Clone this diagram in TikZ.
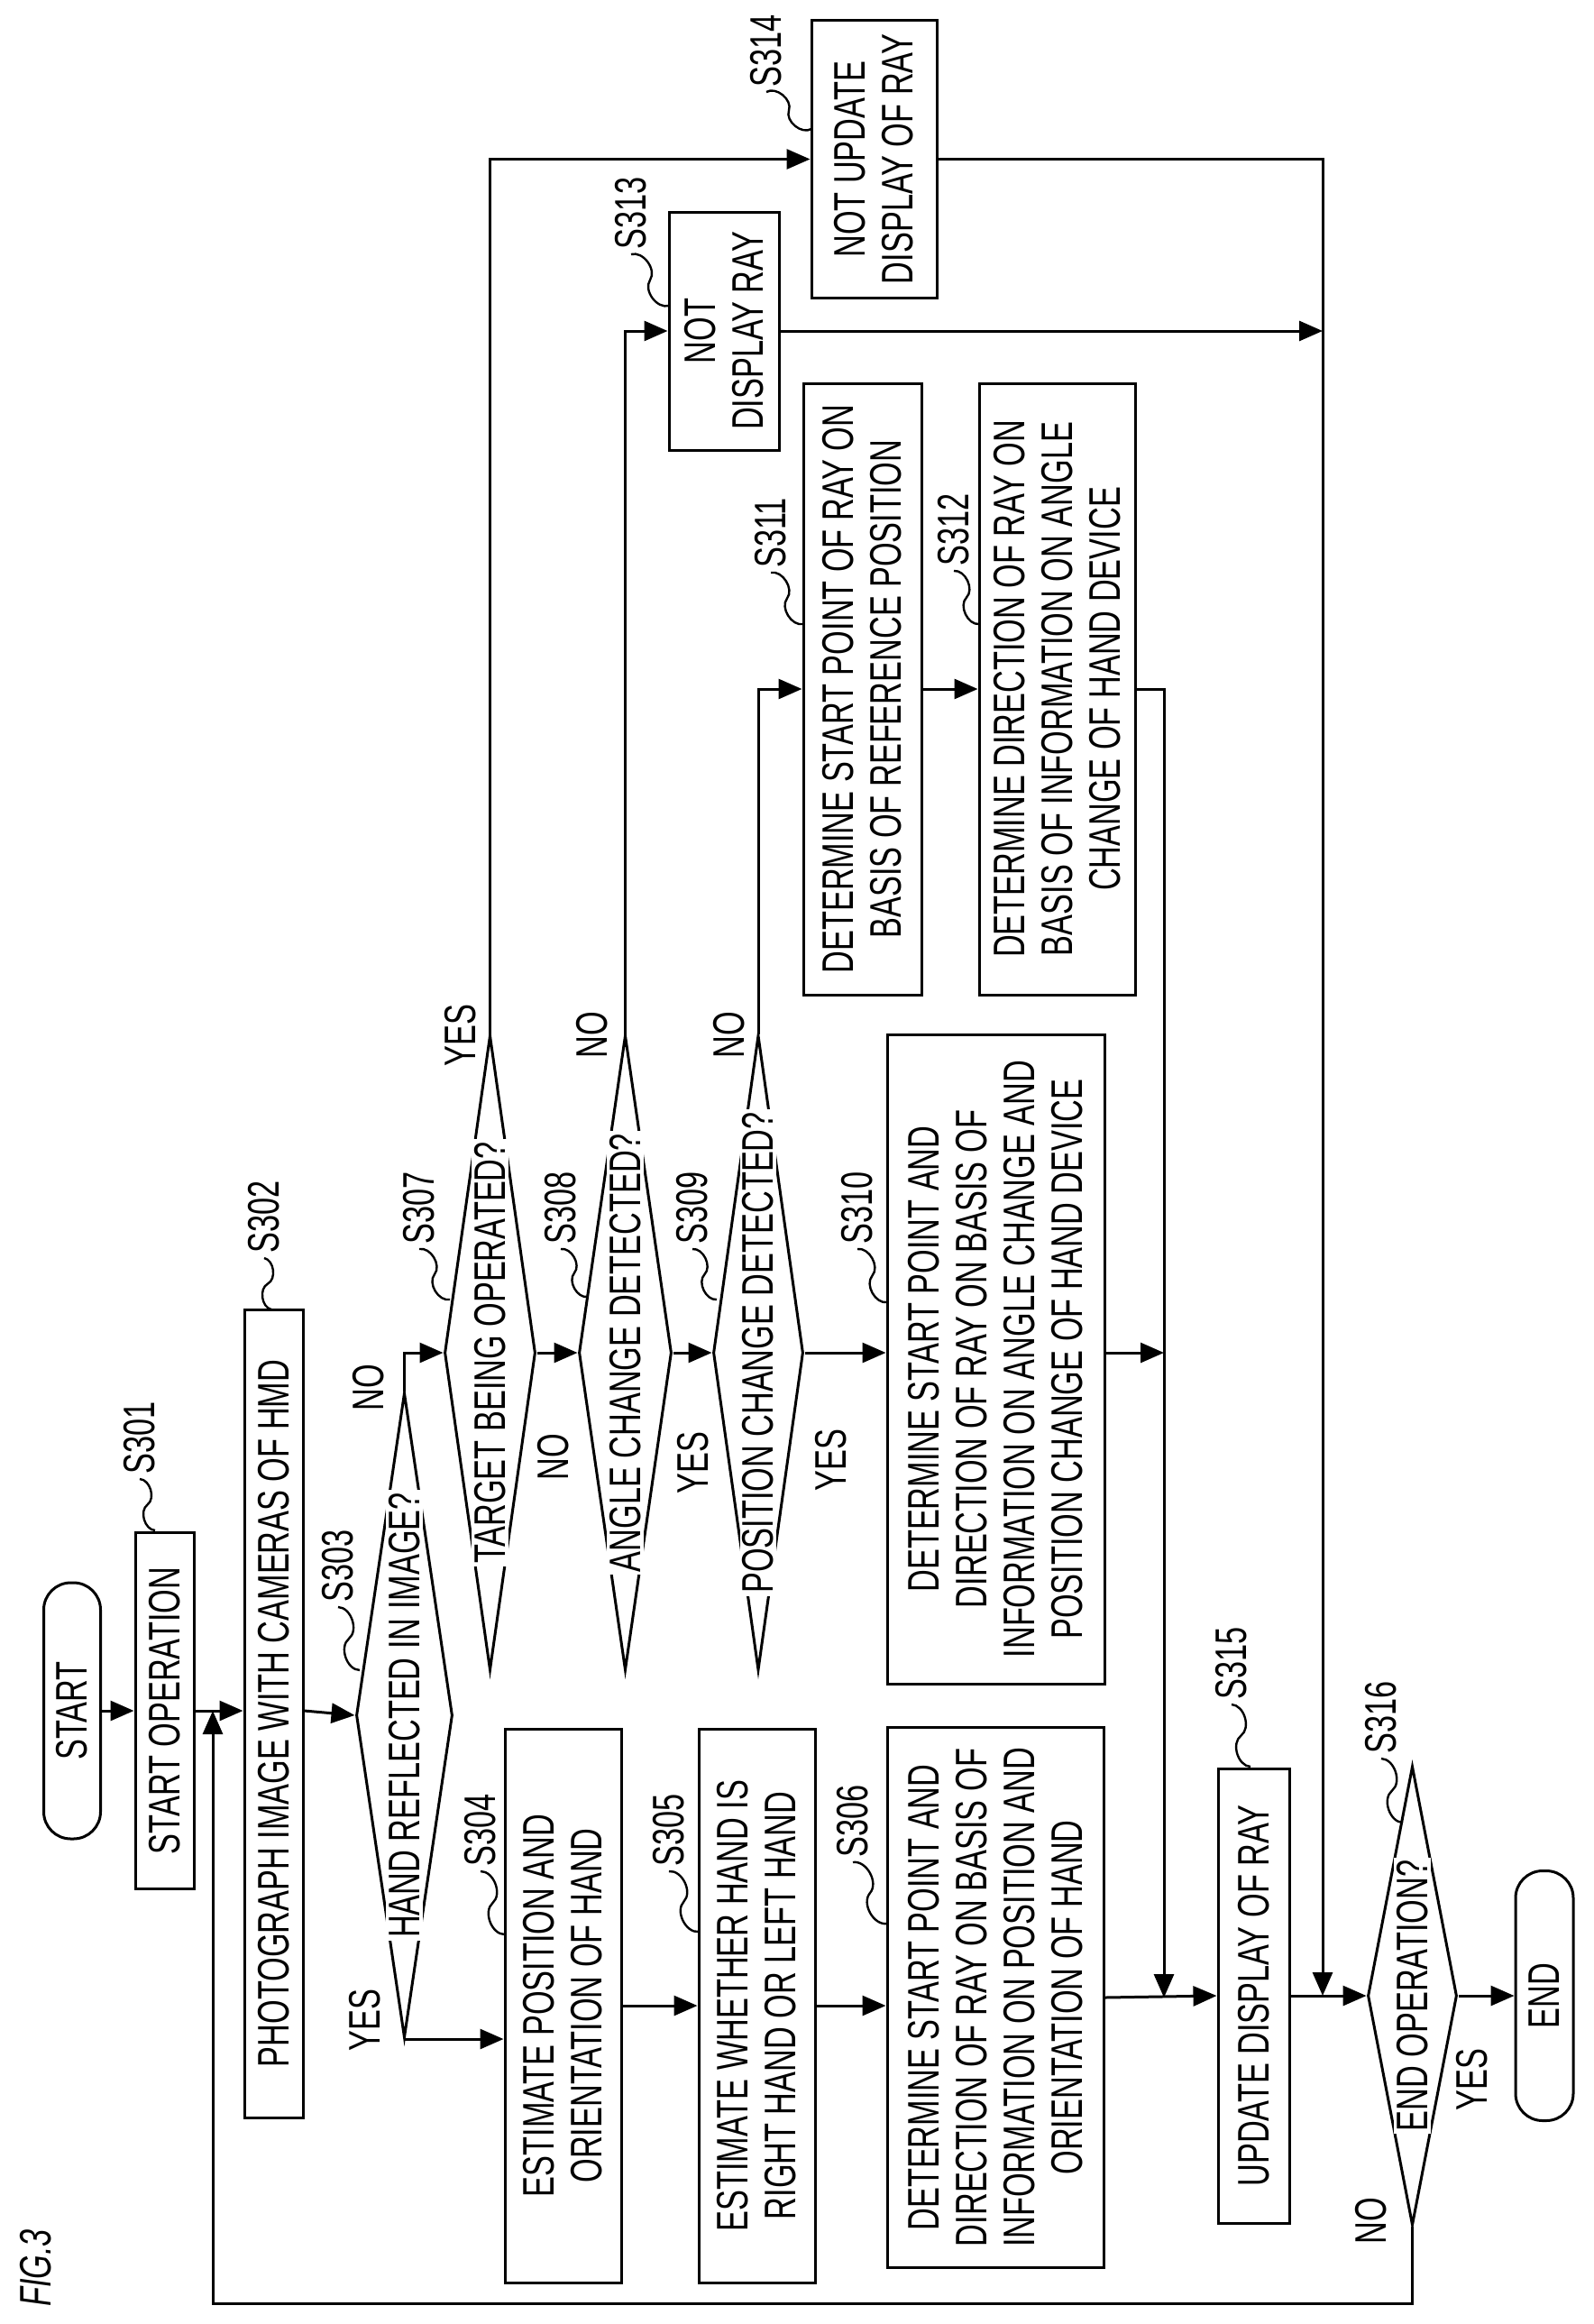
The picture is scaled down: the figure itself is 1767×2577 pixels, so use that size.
\documentclass[tikz,border=0pt]{standalone}
\usepackage{fontspec}
\setmainfont{Liberation Sans}[FakeStretch=0.7]
\usepackage{tikz}
\usetikzlibrary{shapes.geometric}
\usetikzlibrary{arrows.meta}
\usetikzlibrary{calc}

% step number with its small wave
\newcommand{\stepmark}[4]{%
  \draw[line width=2.4pt] (#2) to[bend left=70] ($(#2)!.5!(#3)$) to[bend right=70] (#3);
  \node[steplabel] (#1) at ($(#3)+(0,-4)$) {#4};}

\begin{document}
\begin{tikzpicture}[x=1pt, y=-1pt, line width=3pt,
font=\fontsize{49}{53}\selectfont,
box/.style={rectangle, draw, rotate=90, inner sep=0pt, align=center},
term/.style={rectangle, rounded corners=30pt, draw, rotate=90, inner sep=0pt},
decision/.style={diamond, draw, rotate=90, inner sep=0pt},
dectext/.style={rotate=90, fill=white, inner sep=3pt},
answer/.style={rotate=90},
steplabel/.style={rotate=90, anchor=west, inner sep=0pt},
arrow/.style={-{Triangle[length=26pt,width=22pt]}},
]
\useasboundingbox (0,0) rectangle (1767,2577);
\node[rotate=90, font=\fontsize{49}{53}\itshape] (fig) at (40,2515) {FIG.3};
%Nodes
\node[term, minimum width=284pt, minimum height=63pt] (start) at (80,1897) {START};
\node[box, minimum width=395pt, minimum height=65pt] (op) at (182.5,1897) {START OPERATION};
\node[box, minimum width=896pt, minimum height=65pt] (photo) at (303.5,1900) {PHOTOGRAPH IMAGE WITH CAMERAS OF HMD};
\node[decision, minimum width=715pt, minimum height=107pt] (d303) at (448.5,1902) {};
\node[dectext] (t303) at (d303.center) {HAND REFLECTED IN IMAGE?};
\node[box, minimum width=614pt, minimum height=129pt] (est) at (624.5,2224) {ESTIMATE POSITION AND\\ORIENTATION OF HAND};
\node[box, minimum width=614pt, minimum height=129pt] (lr) at (839.5,2224) {ESTIMATE WHETHER HAND IS\\RIGHT HAND OR LEFT HAND};
\node[box, minimum width=599pt, minimum height=240pt] (handray) at (1104,2215) {DETERMINE START POINT AND\\DIRECTION OF RAY ON BASIS OF\\INFORMATION ON POSITION AND\\ORIENTATION OF HAND};
\node[decision, minimum width=704pt, minimum height=101pt] (d307) at (543.5,1500) {};
\node[dectext] (t307) at (d307.center) {TARGET BEING OPERATED?};
\node[decision, minimum width=704pt, minimum height=103pt] (d308) at (693.5,1500) {};
\node[dectext] (t308) at (d308.center) {ANGLE CHANGE DETECTED?};
\node[decision, minimum width=704pt, minimum height=100pt] (d309) at (841,1500) {};
\node[dectext] (t309) at (d309.center) {POSITION CHANGE DETECTED?};
\node[box, minimum width=720pt, minimum height=241pt] (devray) at (1104.5,1507) {DETERMINE START POINT AND\\DIRECTION OF RAY ON BASIS OF\\INFORMATION ON ANGLE CHANGE AND\\POSITION CHANGE OF HAND DEVICE};
\node[box, minimum width=678pt, minimum height=131pt] (refstart) at (956.5,764) {DETERMINE START POINT OF RAY ON\\BASIS OF REFERENCE POSITION};
\node[box, minimum width=678pt, minimum height=173pt] (angdir) at (1172.5,764) {DETERMINE DIRECTION OF RAY ON\\BASIS OF INFORMATION ON ANGLE\\CHANGE OF HAND DEVICE};
\node[box, minimum width=264pt, minimum height=122pt] (noray) at (803,367) {NOT\\DISPLAY RAY};
\node[box, minimum width=307pt, minimum height=139pt] (noupd) at (969.5,176.5) {NOT UPDATE\\DISPLAY OF RAY};
\node[box, minimum width=504pt, minimum height=79pt] (upd) at (1390.5,2213) {UPDATE DISPLAY OF RAY};
\node[decision, minimum width=509pt, minimum height=99pt] (d316) at (1566.5,2213) {};
\node[dectext] (t316) at (d316.center) {END OPERATION?};
\node[term, minimum width=277pt, minimum height=64pt] (stop) at (1713,2213) {END};
\coordinate (join1) at (1291,2215);
\coordinate (join2) at (1467,2213);
\coordinate (back) at (236,1897);
%Answers
\node[answer] (y303) at (405,2240) {YES};
\node[answer] (n303) at (409,1539) {NO};
\node[answer] (y307) at (511,1148) {YES};
\node[answer] (n307) at (614,1616) {NO};
\node[answer] (n308) at (657,1148) {NO};
\node[answer] (y308) at (769,1622) {YES};
\node[answer] (n309) at (809,1148) {NO};
\node[answer] (y309) at (922,1619) {YES};
\node[answer] (y316) at (1633,2306) {YES};
\node[answer] (n316) at (1521,2463) {NO};
%Step numbers
\stepmark{s301}{172,1697}{155,1640}{S301}
\stepmark{s302}{301,1452}{293,1395}{S302}
\stepmark{s303}{399,1852}{375,1782}{S303}
\stepmark{s304}{560,2145}{533,2075}{S304}
\stepmark{s305}{775,2142}{742,2075}{S305}
\stepmark{s306}{984,2133}{946,2065}{S306}
\stepmark{s307}{499,1441}{465,1385}{S307}
\stepmark{s308}{652,1438}{622,1385}{S308}
\stepmark{s309}{795,1441}{768,1385}{S309}
\stepmark{s310}{984,1444}{951,1385}{S310}
\stepmark{s311}{891,692}{855,635}{S311}
\stepmark{s312}{1086,692}{1058,633}{S312}
\stepmark{s313}{742,339}{700,282}{S313}
\stepmark{s314}{900,143}{850,102}{S314}
\stepmark{s315}{1387,1959}{1366,1890}{S315}
\stepmark{s316}{1556,2021}{1532,1950}{S316}
%Lines
\draw[arrow] (start.south) -- (op.north);
\draw[arrow] (op.south) -- (photo.north |- op.south);
\draw[arrow] (photo.south |- op.south) -- (d303.north);
\draw[arrow] (d303.west) -- (d303.west -| est.north);
\draw[arrow] (d303.east) |- (d307.north);
\draw[arrow] (est.south) -- (lr.north);
\draw[arrow] (lr.south) -- (lr.south -| handray.north);
\draw[arrow] (d307.south) -- (d308.north);
\draw[arrow] (d308.south) -- (d309.north);
\draw[arrow] (d309.south) -- (d309.south -| devray.north);
\draw[arrow] (d307.east) |- (noupd.north);
\draw[arrow] (d308.east) |- (noray.north);
\draw[arrow] (d309.east) |- (refstart.north);
\draw[arrow] (refstart.south) -- (angdir.north);
\draw[arrow] (angdir.south) -| (join1);
\draw[arrow] (devray.south |- d309.south) -- (d309.south -| join1);
\draw[arrow] (handray.south) -- (upd.north);
\draw[arrow] (noupd.south) -| (join2);
\draw[arrow] (noray.south) -- (noray.south -| join2);
\draw[arrow] (upd.south) -- (d316.north);
\draw[arrow] (d316.south) -- (stop.north);
\draw[arrow] (d316.west) -- ++(0,85) -| (back);
\end{tikzpicture}
\end{document}
